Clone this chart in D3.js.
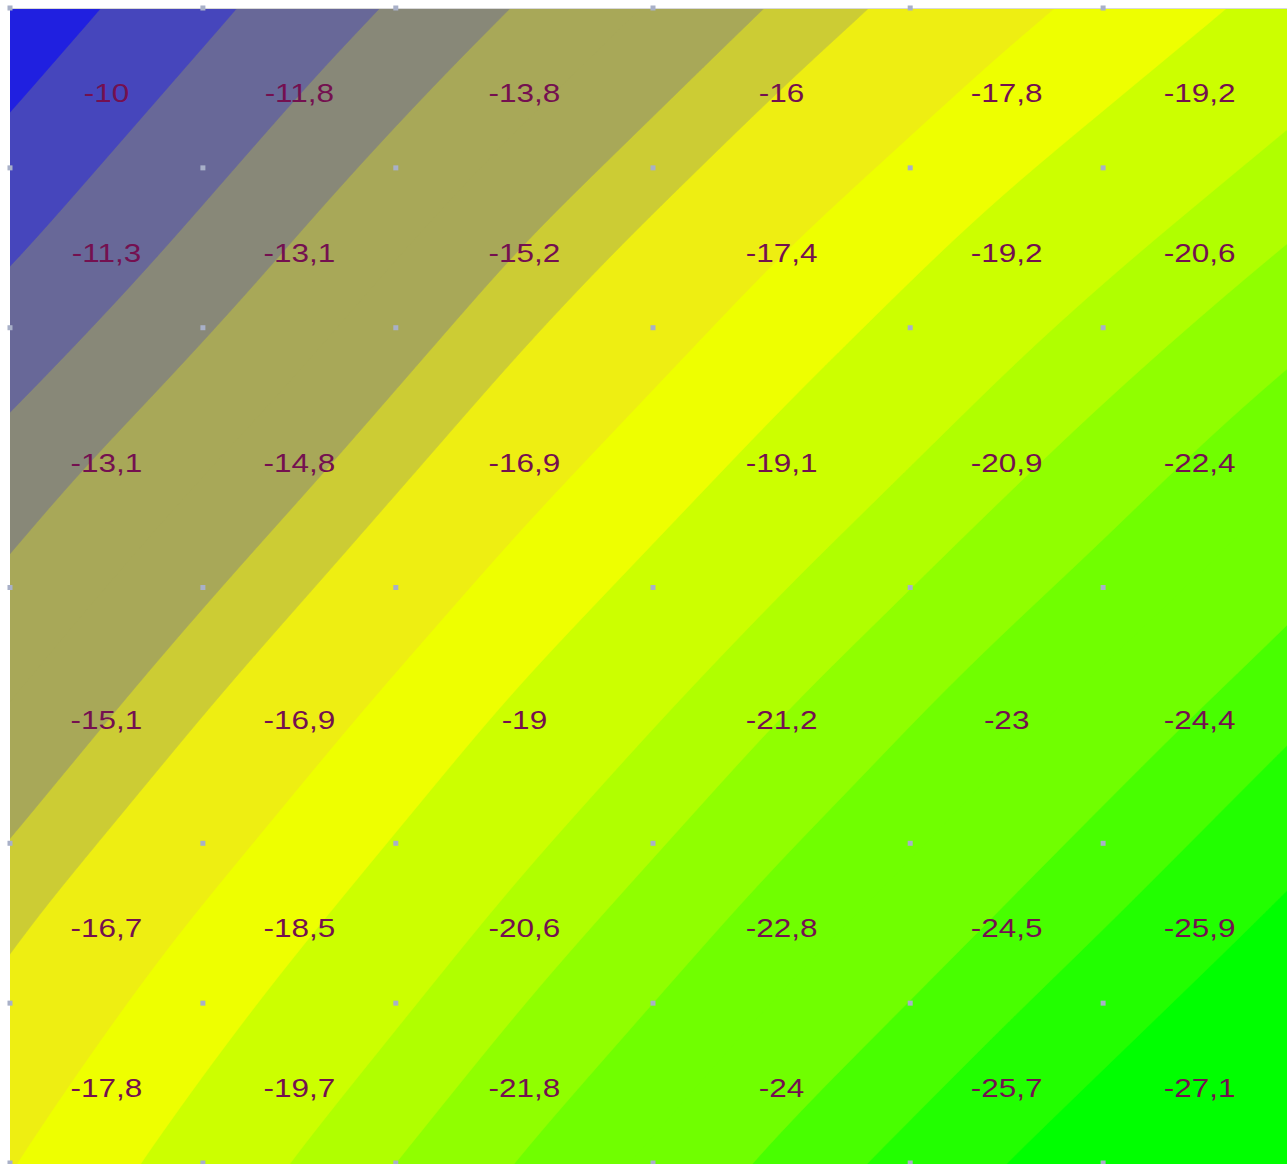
<!DOCTYPE html>
<html>
<head>
<meta charset="utf-8">
<script src="https://cdn.jsdelivr.net/npm/d3@7"></script>
<style>
  body { margin: 0; background: #fff; }
  svg { display: block; }
</style>
</head>
<body>
<div id="chart"></div>
<script>
// cell values, one array per row (top to bottom)
const row1 = [-10, -11.8, -13.8, -16, -17.8, -19.2];
const row2 = [-11.3, -13.1, -15.2, -17.4, -19.2, -20.6];
const row3 = [-13.1, -14.8, -16.9, -19.1, -20.9, -22.4];
const row4 = [-15.1, -16.9, -19, -21.2, -23, -24.4];
const row5 = [-16.7, -18.5, -20.6, -22.8, -24.5, -25.9];
const row6 = [-17.8, -19.7, -21.8, -24, -25.7, -27.1];
const rows = [row1, row2, row3, row4, row5, row6];

// contour levels, low to high
const levels = [-26.3, -25.25, -24.35, -23.3, -22.3, -21.2, -20.2, -18.7,
                -17.45, -16.0, -15.15, -14.1, -12.98, -11.85, -10.57, -9.3];
// fill below the lowest level, then one colour per level (region above it)
const baseColor = "#00ff00";
const levelColors = ["#22ff00", "#48ff00", "#70ff00", "#70ff00", "#90ff00", "#b0ff00",
                     "#ccff00", "#eeff00", "#eeee12", "#cccc34", "#a8a858", "#a8a858",
                     "#888878", "#686898", "#4646bc", "#2020e0"];

const W = 1287, H = 1164;
const plot = { left: 10, top: 8, right: 1296, bottom: 1163 };
const colWeights = [3, 3, 4, 4, 3, 3];
const rowWeights = [1, 1, 1.625, 1.6, 1, 1];

const colEdges = d3.cumsum([0, ...colWeights]);
const rowEdges = d3.cumsum([0, ...rowWeights]);
const x = d3.scaleLinear().domain([0, d3.sum(colWeights)]).range([plot.left, plot.right]);
const y = d3.scaleLinear().domain([0, d3.sum(rowWeights)]).range([plot.top, plot.bottom]);

const xEdges = Array.from(colEdges, x);
const yEdges = Array.from(rowEdges, y);
const xCenters = d3.range(6).map(i => (xEdges[i] + xEdges[i + 1]) / 2);
const yCenters = d3.range(6).map(j => (yEdges[j] + yEdges[j + 1]) / 2);

// screen position -> fractional cell index (extrapolates past the outer centers)
const fx = d3.scaleLinear().domain(xCenters).range(d3.range(6));
const fy = d3.scaleLinear().domain(yCenters).range(d3.range(6));

function valueAt(px, py) {
    const u = fx(px), v = fy(py);
    const i = Math.max(0, Math.min(4, Math.floor(u)));
    const j = Math.max(0, Math.min(4, Math.floor(v)));
    const tu = u - i, tv = v - j;
    return (1 - tu) * (1 - tv) * rows[j][i] + tu * (1 - tv) * rows[j][i + 1]
         + (1 - tu) * tv * rows[j + 1][i] + tu * tv * rows[j + 1][i + 1];
}

// sample on a padded grid, then smooth so the bands curve instead of kinking
const step = 3, pad = 72;
const x0 = plot.left - pad, y0 = plot.top - pad;
const n = Math.ceil((plot.right - plot.left + 2 * pad) / step) + 1;
const m = Math.ceil((plot.bottom - plot.top + 2 * pad) / step) + 1;
const field = new Float64Array(n * m);
for (let j = 0; j < m; j++) {
    for (let i = 0; i < n; i++) {
        field[j * n + i] = valueAt(x0 + i * step, y0 + j * step);
    }
}
if (d3.blur2) d3.blur2({ data: field, width: n, height: m }, 12);

const contours = d3.contours().size([n, m]).thresholds(levels)(Array.from(field));

const svg = d3.select("#chart").append("svg")
    .attr("width", W)
    .attr("height", H);

svg.append("clipPath").attr("id", "plot-clip")
    .append("rect")
    .attr("x", plot.left).attr("y", plot.top + 1)
    .attr("width", plot.right - plot.left)
    .attr("height", plot.bottom - plot.top);

const g = svg.append("g").attr("clip-path", "url(#plot-clip)");

g.append("rect")
    .attr("x", plot.left).attr("y", plot.top)
    .attr("width", plot.right - plot.left)
    .attr("height", plot.bottom - plot.top + 2)
    .attr("fill", baseColor);

const path = d3.geoPath(d3.geoTransform({
    point(px, py) {
        this.stream.point(x0 + (px - 0.5) * step, y0 + (py - 0.5) * step);
    }
}));

g.selectAll("path.band")
    .data(contours)
    .join("path")
    .attr("class", "band")
    .attr("d", path)
    .attr("fill", (d, i) => levelColors[i])
    .attr("stroke", (d, i) => levelColors[i])
    .attr("stroke-width", 0.5);

// faint frame line along the top
svg.append("line")
    .attr("x1", plot.left).attr("x2", W)
    .attr("y1", plot.top + 0.5).attr("y2", plot.top + 0.5)
    .attr("stroke", "#d8d8d8")
    .attr("stroke-width", 1);

// grid corner markers
const corners = [];
xEdges.forEach(cx => yEdges.forEach(cy => corners.push([cx, cy])));
svg.selectAll("rect.corner")
    .data(corners)
    .join("rect")
    .attr("class", "corner")
    .attr("x", d => d[0] - 2.5)
    .attr("y", d => d[1] - 2.5)
    .attr("width", 5)
    .attr("height", 5)
    .attr("fill", "#a8b0c8");

// cell labels with a decimal comma
const fmt = d3.formatLocale({ decimal: ",", thousands: ".", grouping: [3], currency: ["", ""], minus: "-" }).format("~g");

const cells = [];
rows.forEach((r, j) => r.forEach((v, i) => cells.push({ v, cx: xCenters[i], cy: yCenters[j] })));

svg.selectAll("text.label")
    .data(cells)
    .join("text")
    .attr("class", "label")
    .attr("transform", d => `translate(${d.cx},${d.cy + 14}) scale(1.26,1)`)
    .attr("text-anchor", "middle")
    .style("font-family", "'Liberation Sans', Arial, sans-serif")
    .style("font-size", "25px")
    .style("fill", "#741050")
    .text(d => fmt(d.v));
</script>
</body>
</html>
